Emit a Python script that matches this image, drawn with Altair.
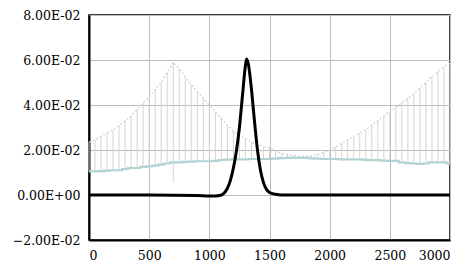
import altair as alt
import pandas as pd

# gray error-bar series (x every 50)
bar_x = list(range(0, 3001, 50))
bar_upper = [0.0235, 0.0245, 0.026, 0.0275, 0.029, 0.031, 0.033, 0.035, 0.038, 0.041,
             0.0435, 0.047, 0.050, 0.0545, 0.059, 0.056, 0.0525, 0.049, 0.046, 0.043,
             0.040, 0.037, 0.034, 0.031, 0.0285, 0.0265, 0.025, 0.0235, 0.0225, 0.0215,
             0.021, 0.0195, 0.0185, 0.018, 0.0175, 0.0172, 0.0172, 0.0175, 0.018, 0.019,
             0.020, 0.0215, 0.023, 0.0245, 0.026, 0.0275, 0.029, 0.031, 0.033, 0.035,
             0.037, 0.039, 0.041, 0.043, 0.045, 0.0475, 0.050, 0.0525, 0.055, 0.057, 0.0585]
bar_center = [0.0105, 0.0105, 0.0106, 0.0108, 0.011, 0.011, 0.0115, 0.012, 0.012, 0.0125,
              0.0127, 0.013, 0.0135, 0.014, 0.0145, 0.0145, 0.0147, 0.0148, 0.015, 0.015,
              0.015, 0.0152, 0.0155, 0.0157, 0.0158, 0.0158, 0.0158, 0.016, 0.016, 0.016,
              0.016, 0.0162, 0.0164, 0.0165, 0.0165, 0.0165, 0.0165, 0.0163, 0.0162, 0.016,
              0.016, 0.016, 0.0158, 0.0158, 0.0158, 0.0158, 0.0156, 0.0155, 0.0155, 0.0153,
              0.0152, 0.0152, 0.0145, 0.0142, 0.014, 0.0138, 0.014, 0.0145, 0.0145, 0.0145, 0.014]
bar_lower = list(bar_center)
bar_lower[14] = 0.0055

# black peak series
line_x = [0, 500, 900, 1000, 1050, 1100, 1125, 1150, 1175, 1200, 1225, 1250, 1275, 1300,
          1310, 1325, 1350, 1375, 1400, 1425, 1450, 1475, 1500, 1550, 1600, 2000, 2500, 3000]
line_y = [0.0, 0.0, -0.0002, -0.0004, -0.0004, 0.0, 0.001, 0.003, 0.0065, 0.012, 0.0195,
          0.030, 0.044, 0.0575, 0.0605, 0.058, 0.047, 0.033, 0.020, 0.011, 0.0055, 0.0025,
          0.0011, 0.0003, 0.0, 0.0, 0.0, 0.0]

x_ticks = [0, 500, 1000, 1500, 2000, 2500, 3000]
y_ticks = [-0.02, 0.0, 0.02, 0.04, 0.06, 0.08]

bars = pd.DataFrame({"x": bar_x, "upper": bar_upper, "center": bar_center, "lower": bar_lower})
peak = pd.DataFrame({"x": line_x, "y": line_y})

FONT = "DejaVu Serif"

xscale = alt.Scale(domain=[0, 3000], nice=False, zero=False)
yscale = alt.Scale(domain=[-0.02, 0.08], nice=False, zero=False)

xaxis = alt.Axis(values=x_ticks, title=None, ticks=False, format="d")
yaxis = alt.Axis(values=y_ticks, title=None, ticks=False,
                 labelExpr="replace(replace(format(datum.value, '.2e'), 'e-', 'E-0'), 'e+', 'E+0')")

rules = alt.Chart(bars).mark_rule(color="#d4d4d4", strokeWidth=1).encode(
    x=alt.X("x:Q", scale=xscale, axis=xaxis),
    y=alt.Y("lower:Q", scale=yscale, axis=yaxis),
    y2="upper:Q",
)
caps = alt.Chart(bars).mark_line(color="#d0d0d0", strokeWidth=1.2, strokeDash=[2, 2]).encode(
    x=alt.X("x:Q", scale=xscale),
    y=alt.Y("upper:Q", scale=yscale),
)
center = alt.Chart(bars).mark_line(color="#b3d3d3", strokeWidth=2.2, interpolate="step").encode(
    x=alt.X("x:Q", scale=xscale),
    y=alt.Y("center:Q", scale=yscale),
)
line = alt.Chart(peak).mark_line(color="black", strokeWidth=3, interpolate="monotone").encode(
    x=alt.X("x:Q", scale=xscale),
    y=alt.Y("y:Q", scale=yscale),
)

chart = alt.layer(rules, caps, center, line).properties(
    width=361, height=225,
    autosize=alt.AutoSizeParams(type="none"),
    padding={"left": 81, "top": 7, "right": 13, "bottom": 29},
    background="white",
).configure(
    font=FONT
).configure_view(
    stroke="black", strokeWidth=1.5
).configure_axis(
    labelFont=FONT, labelFontSize=12.5, labelColor="black", labelPadding=9,
    domainColor="black", domainWidth=2, gridColor="#bdbdbd", gridWidth=1,
)

chart.save("out.html", embed_options={"renderer": "svg", "actions": False})
